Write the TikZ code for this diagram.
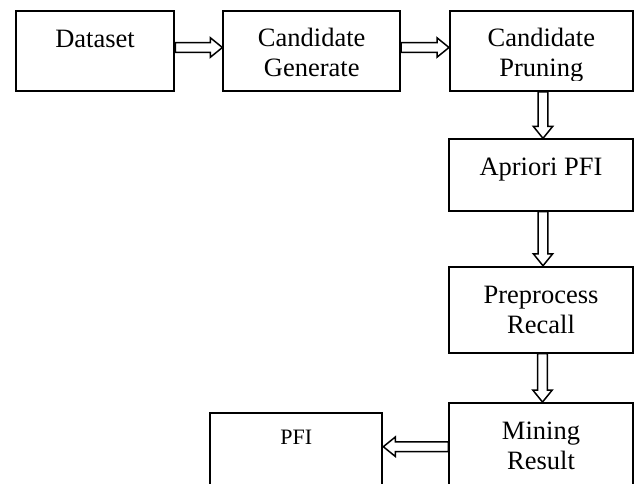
\documentclass[tikz,border=0pt]{standalone}
\usepackage{fontspec}
\setmainfont{Liberation Serif}
\usetikzlibrary{calc}
\tikzset{
  box/.style={draw, line width=1.9pt, rectangle, inner sep=0pt},
  txt/.style={font=\fontsize{26.5}{30}\selectfont, anchor=base, inner sep=0pt},
  smalltxt/.style={font=\fontsize{22}{26}\selectfont, anchor=base, inner sep=0pt},
  blockarrow/.style={draw, fill=white, line width=1.5pt, line join=miter, to path={
    ($(\tikztostart)!4.8pt!90:(\tikztotarget)$) --
    ($($(\tikztotarget)!12pt!(\tikztostart)$)!4.8pt!90:(\tikztotarget)$) --
    ($($(\tikztotarget)!12pt!(\tikztostart)$)!9.7pt!90:(\tikztotarget)$) --
    (\tikztotarget) --
    ($($(\tikztotarget)!12pt!(\tikztostart)$)!9.7pt!-90:(\tikztotarget)$) --
    ($($(\tikztotarget)!12pt!(\tikztostart)$)!4.8pt!-90:(\tikztotarget)$) --
    ($(\tikztostart)!4.8pt!-90:(\tikztotarget)$) -- cycle
  }}
}
\begin{document}
\begin{tikzpicture}[x=1pt,y=-1pt]
\useasboundingbox (0,0) rectangle (634,483);
\clip (0,0) rectangle (634,483);
\fill[white] (0,0) rectangle (634,483);
% boxes
\node[box, minimum width=158.6pt, minimum height=79.7pt] (ds) at (95,51) {};
\node[box, minimum width=176.7pt, minimum height=79.7pt] (cg) at (311.7,51) {};
\node[box, minimum width=182.7pt, minimum height=79.7pt] (cp) at (541.3,51) {};
\node[box, minimum width=183.4pt, minimum height=71.4pt] (ap) at (541,175) {};
\node[box, minimum width=183.4pt, minimum height=86pt] (pr) at (541,309.7) {};
\node[box, minimum width=183.4pt, minimum height=84pt] (mr) at (541,445) {};
\node[box, minimum width=172.3pt, minimum height=83.4pt] (pfi) at (296.2,455) {};
% texts
\node[txt] (dst) at ($(ds.north)+(0,37)$) {Dataset};
\node[txt] (cgt1) at ($(cg.north)+(0,36)$) {Candidate};
\node[txt] (cgt2) at ($(cg.north)+(0,66)$) {Generate};
\node[txt] (cpt1) at ($(cp.north)+(0,36)$) {Candidate};
\begin{scope}
\clip (440,0) rectangle (634,80.5);
\node[txt] (cpt2) at ($(cp.north)+(0,66)$) {Pruning};
\end{scope}
\node[txt] (apt) at ($(ap.north)+(0,36.7)$) {Apriori PFI};
\node[txt] (prt1) at ($(pr.north)+(0,38)$) {Preprocess};
\node[txt] (prt2) at ($(pr.north)+(0,68)$) {Recall};
\node[txt] (mrt1) at ($(mr.north)+(0,37.7)$) {Mining};
\node[txt] (mrt2) at ($(mr.north)+(0,67.7)$) {Result};
\node[smalltxt] (pfit) at ($(pfi.north)+(0,31.7)$) {PFI};
% arrows
\draw[blockarrow] ($(ds.east)+(0,-3.5)$) to ($(cg.west)+(0,-3.5)$);
\draw[blockarrow] ($(cg.east)+(0,-3.5)$) to ($(cp.west)+(0,-3.5)$);
\draw[blockarrow] ($(cp.south)+(1.7,0)$) to ($(ap.north)+(2,0)$);
\draw[blockarrow] ($(ap.south)+(2,0)$) to ($(pr.north)+(2,0)$);
\draw[blockarrow] ($(pr.south)+(1.5,0)$) to ($(mr.north)+(1.5,0)$);
\draw[blockarrow] ($(mr.west)+(0,1.7)$) to ($(pfi.east)+(0,-8.3)$);
\end{tikzpicture}
\end{document}
